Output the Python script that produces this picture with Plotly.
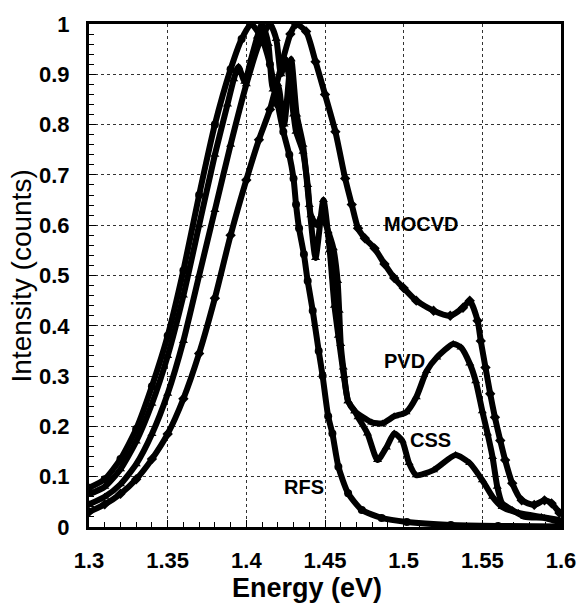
import plotly.graph_objects as go

# ---------------- data ----------------
rfs_e = [1.300, 1.310, 1.320, 1.330, 1.340, 1.350, 1.360, 1.370, 1.380, 1.390, 1.397, 1.403,
         1.410, 1.415, 1.420, 1.4235, 1.4273, 1.430, 1.4316, 1.4335, 1.4366, 1.439, 1.4422, 1.446,
         1.4485, 1.452, 1.4547, 1.4585, 1.4647, 1.4734, 1.486, 1.502, 1.530, 1.560, 1.600]
rfs_v = [0.078, 0.095, 0.135, 0.195, 0.280, 0.380, 0.510, 0.660, 0.800, 0.910, 0.970, 1.000,
         0.970, 0.920, 0.840, 0.786, 0.740, 0.693, 0.641, 0.594, 0.542, 0.489, 0.430, 0.350,
         0.300, 0.220, 0.186, 0.120, 0.067, 0.034, 0.018, 0.010, 0.004, 0.002, 0.001]

css_e = [1.300, 1.310, 1.320, 1.330, 1.340, 1.350, 1.360, 1.370, 1.380, 1.388, 1.392, 1.395, 1.399,
         1.403, 1.407, 1.410, 1.414, 1.417, 1.420, 1.424, 1.4285, 1.432, 1.436, 1.440, 1.444, 1.449,
         1.453, 1.456, 1.4585, 1.462, 1.4647, 1.469, 1.471, 1.477, 1.4834, 1.489, 1.494, 1.499,
         1.5034, 1.508, 1.519, 1.533, 1.542, 1.550, 1.5565, 1.5626, 1.573, 1.5876, 1.599]
css_v = [0.065, 0.080, 0.115, 0.170, 0.245, 0.340, 0.460, 0.600, 0.740, 0.840, 0.890, 0.915, 0.885,
         0.930, 0.975, 1.000, 0.960, 0.870, 0.880, 0.800, 0.930, 0.820, 0.760, 0.640, 0.535, 0.650,
         0.550, 0.440, 0.380, 0.300, 0.250, 0.230, 0.218, 0.186, 0.133, 0.158, 0.186, 0.172,
         0.127, 0.103, 0.113, 0.143, 0.127, 0.093, 0.060, 0.040, 0.028, 0.020, 0.014]

pvd_e = [1.300, 1.310, 1.320, 1.330, 1.340, 1.350, 1.360, 1.370, 1.380, 1.390, 1.400, 1.408,
         1.415, 1.419, 1.422, 1.425, 1.430, 1.4316, 1.436, 1.439, 1.441, 1.445, 1.448, 1.452, 1.4553,
         1.458, 1.459, 1.460, 1.4616, 1.4647, 1.469, 1.4797, 1.4865, 1.494, 1.5015, 1.508, 1.5146,
         1.521, 1.5315, 1.5365, 1.542, 1.5458, 1.550, 1.5533, 1.5565, 1.5595, 1.5626, 1.569, 1.577,
         1.5895, 1.599]
pvd_v = [0.045, 0.060, 0.085, 0.125, 0.185, 0.265, 0.370, 0.500, 0.630, 0.760, 0.880, 0.960,
         1.000, 0.970, 0.900, 0.930, 0.820, 0.786, 0.746, 0.680, 0.620, 0.600, 0.620, 0.588, 0.554,
         0.489, 0.430, 0.364, 0.317, 0.250, 0.230, 0.208, 0.206, 0.220, 0.228, 0.258, 0.310,
         0.337, 0.364, 0.357, 0.325, 0.290, 0.230, 0.186, 0.139, 0.080, 0.047, 0.034, 0.020,
         0.018, 0.010]

mocvd_e = [1.300, 1.310, 1.320, 1.330, 1.340, 1.350, 1.360, 1.370, 1.380, 1.390, 1.400, 1.408,
           1.415, 1.4233, 1.428, 1.4316, 1.438, 1.444, 1.450, 1.4566, 1.4628, 1.467, 1.471, 1.4753,
           1.4815, 1.4878, 1.494, 1.500, 1.508, 1.519, 1.5296, 1.5377, 1.542, 1.547, 1.549, 1.552,
           1.555, 1.558, 1.5614, 1.5645, 1.569, 1.575, 1.583, 1.5895, 1.594, 1.599]
mocvd_v = [0.030, 0.045, 0.066, 0.095, 0.135, 0.185, 0.255, 0.345, 0.455, 0.580, 0.690, 0.770,
           0.830, 0.930, 0.980, 1.000, 0.985, 0.925, 0.860, 0.786, 0.693, 0.641, 0.594, 0.574,
           0.554, 0.523, 0.495, 0.475, 0.450, 0.430, 0.420, 0.436, 0.450, 0.410, 0.370, 0.317,
           0.265, 0.218, 0.172, 0.133, 0.087, 0.053, 0.044, 0.053, 0.047, 0.028]

series_names = ["RFS", "CSS", "PVD", "MOCVD"]
series_symbols = ["circle", "triangle-up", "triangle-up", "diamond"]

label_text = ["MOCVD", "PVD", "CSS", "RFS"]
label_e = [1.5109, 1.5003, 1.5171, 1.4366]
label_v = [0.602, 0.331, 0.172, 0.079]

x_ticks = [1.3, 1.35, 1.4, 1.45, 1.5, 1.55, 1.6]
x_ticktext = ["1.3", "1.35", "1.4", "1.45", "1.5", "1.55", "1.6"]
y_ticks = [0, 0.1, 0.2, 0.3, 0.4, 0.5, 0.6, 0.7, 0.8, 0.9, 1.0]
y_ticktext = ["0", "0.1", "0.2", "0.3", "0.4", "0.5", "0.6", "0.7", "0.8", "0.9", "1"]

x_title = "Energy (eV)"
y_title = "Intensity (counts)"

# ---------------- figure ----------------
FONT = "Liberation Sans, Arial, sans-serif"
fig = go.Figure()

all_e = [rfs_e, css_e, pvd_e, mocvd_e]
all_v = [rfs_v, css_v, pvd_v, mocvd_v]
for name, sym, ex, vy in zip(series_names, series_symbols, all_e, all_v):
    fig.add_trace(go.Scatter(
        x=ex, y=vy, name=name, mode="lines+markers",
        line=dict(color="black", width=6, shape="spline", smoothing=0.6),
        marker=dict(symbol=sym, size=8, color="black"),
        showlegend=False, cliponaxis=True,
    ))

for t, ex, vy in zip(label_text, label_e, label_v):
    fig.add_annotation(x=ex, y=vy, xref="x", yref="y", text=t, showarrow=False,
                       font=dict(family=FONT, size=20, color="black", weight="bold"),
                       xanchor="center", yanchor="middle")

fig.add_annotation(x=0.4615, y=-0.122, xref="paper", yref="paper", text=x_title,
                   showarrow=False, xanchor="center", yanchor="middle",
                   font=dict(family=FONT, size=27, color="black", weight="bold"))
fig.add_annotation(x=-0.142, y=0.5, xref="paper", yref="paper", text=y_title,
                   showarrow=False, xanchor="center", yanchor="middle", textangle=-90,
                   font=dict(family=FONT, size=28, color="black"))

axis_common = dict(
    showline=True, linecolor="black", linewidth=3, mirror=True,
    showgrid=True, gridcolor="#333333", gridwidth=1, griddash="dot",
    zeroline=False, ticks="inside", ticklen=7, tickwidth=1, tickcolor="black",
    tickfont=dict(family=FONT, size=22, color="black", weight="bold"),
)

fig.update_xaxes(range=[1.3, 1.6], tickvals=x_ticks, ticktext=x_ticktext,
                 minor=dict(ticks="inside", dtick=0.01, ticklen=5, tickcolor="black", showgrid=False),
                 ticklabelstandoff=12, **axis_common)
fig.update_yaxes(range=[0, 1], tickvals=y_ticks, ticktext=y_ticktext,
                 minor=dict(ticks="inside", dtick=0.02, ticklen=5, tickcolor="black", showgrid=False),
                 ticklabelstandoff=12, **axis_common)

fig.update_layout(
    width=588, height=612,
    margin=dict(l=89, r=18, t=22, b=85),
    paper_bgcolor="white", plot_bgcolor="white",
)

fig.write_html("out.html")
